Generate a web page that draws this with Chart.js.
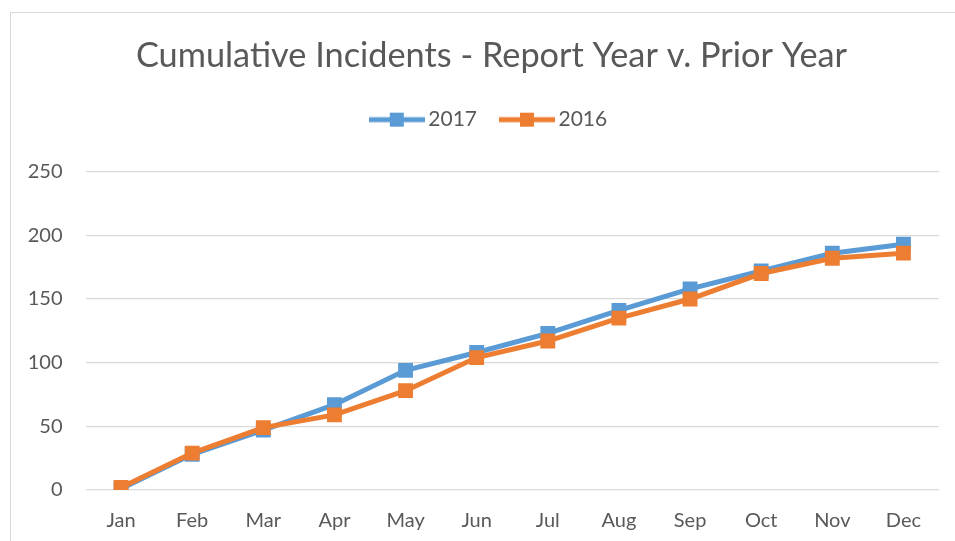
<!DOCTYPE html>
<html>
<head>
<meta charset="utf-8">
<script src="https://cdn.jsdelivr.net/npm/chart.js@4.4.1/dist/chart.umd.min.js"></script>
<style>
  html, body { margin: 0; padding: 0; background: #fff; }
  #wrap { position: relative; width: 955px; height: 541px; }
</style>
</head>
<body>
<div id="wrap"><canvas id="myChart"></canvas></div>
<script>
const meses = ['Jan', 'Feb', 'Mar', 'Apr', 'May', 'Jun', 'Jul', 'Aug', 'Sep', 'Oct', 'Nov', 'Dec'];
const serie2017 = [1, 28, 47, 67, 94, 108, 123, 141, 158, 172, 186, 193];
const serie2016 = [2, 29, 49, 59, 78, 104, 117, 135, 150, 170, 182, 186];
const titulo = 'Cumulative Incidents - Report Year v. Prior Year';

const azul = '#5B9BD5';
const naranja = '#ED7D31';
const gris = '#595959';
const fuente = 'Lato, "Open Sans", sans-serif';

// icono de leyenda: linea con cuadrado al medio
function iconoLeyenda(color) {
    const c = document.createElement('canvas');
    c.width = 56;
    c.height = 16;
    const ctx = c.getContext('2d');
    ctx.strokeStyle = color;
    ctx.lineWidth = 5;
    ctx.beginPath();
    ctx.moveTo(0, 8);
    ctx.lineTo(56, 8);
    ctx.stroke();
    ctx.fillStyle = color;
    ctx.fillRect(21, 1, 14, 14);
    return c;
}

// marco gris del grafico
const marco = {
    id: 'marco',
    beforeDraw(chart) {
        const ctx = chart.ctx;
        ctx.save();
        ctx.strokeStyle = '#d9d9d9';
        ctx.lineWidth = 1;
        ctx.strokeRect(10.5, 12.5, 1000, 1000);
        ctx.restore();
    }
};

// espacio extra bajo la leyenda
const espacioLeyenda = {
    id: 'espacioLeyenda',
    beforeInit(chart) {
        const fitOriginal = chart.legend.fit;
        chart.legend.fit = function () {
            fitOriginal.bind(chart.legend)();
            this.height += 31.5;
        };
    }
};

const myChartCtx = document.querySelector('#myChart').getContext('2d');

const myChart = new Chart(myChartCtx, {
    type: 'line',
    data: {
        labels: meses,
        datasets: [{
            label: '2017',
            data: serie2017,
            borderColor: azul,
            backgroundColor: azul,
            borderWidth: 5,
            pointStyle: 'rect',
            pointRadius: 10.5,
            pointBorderWidth: 0,
            pointBackgroundColor: azul,
            tension: 0,
            order: 1,
            _icono: iconoLeyenda(azul)
        }, {
            label: '2016',
            data: serie2016,
            borderColor: naranja,
            backgroundColor: naranja,
            borderWidth: 5,
            pointStyle: 'rect',
            pointRadius: 10.5,
            pointBorderWidth: 0,
            pointBackgroundColor: naranja,
            tension: 0,
            order: 0,
            _icono: iconoLeyenda(naranja)
        }]
    },
    options: {
        responsive: true,
        maintainAspectRatio: false,
        animation: false,
        layout: {
            padding: { top: 20, right: 0, bottom: 0, left: 28 }
        },
        plugins: {
            title: {
                display: true,
                text: titulo,
                color: gris,
                font: { family: fuente, size: 34.3, weight: 'normal' },
                padding: { top: 15, bottom: 4 }
            },
            legend: {
                display: true,
                position: 'top',
                labels: {
                    color: gris,
                    font: { family: fuente, size: 21 },
                    usePointStyle: true,
                    pointStyleWidth: 42,
                    padding: 29,
                    sort: (a, b) => a.datasetIndex - b.datasetIndex,
                    generateLabels(chart) {
                        const items = Chart.defaults.plugins.legend.labels.generateLabels(chart);
                        items.forEach(it => {
                            it.pointStyle = chart.data.datasets[it.datasetIndex]._icono;
                        });
                        return items;
                    }
                }
            },
            tooltip: { enabled: false }
        },
        scales: {
            x: {
                offset: true,
                grid: { display: false, drawTicks: false },
                border: { display: false },
                ticks: {
                    color: gris,
                    font: { family: fuente, size: 20 },
                    padding: 19
                },
                afterFit(scale) { scale.height = 51; }
            },
            y: {
                min: 0,
                max: 250,
                ticks: {
                    stepSize: 50,
                    color: gris,
                    font: { family: fuente, size: 20 },
                    padding: 23
                },
                grid: { color: '#d9d9d9', lineWidth: 1.3, drawTicks: false },
                border: { display: false },
                afterFit(scale) { scale.width = 57.5; }
            },
            // eje vacio a la derecha, solo margen
            margenDerecho: {
                type: 'linear',
                position: 'right',
                grid: { display: false, drawTicks: false },
                border: { display: false },
                ticks: { display: false },
                afterFit(scale) { scale.width = 16; }
            }
        }
    },
    plugins: [marco, espacioLeyenda]
});
</script>
</body>
</html>
